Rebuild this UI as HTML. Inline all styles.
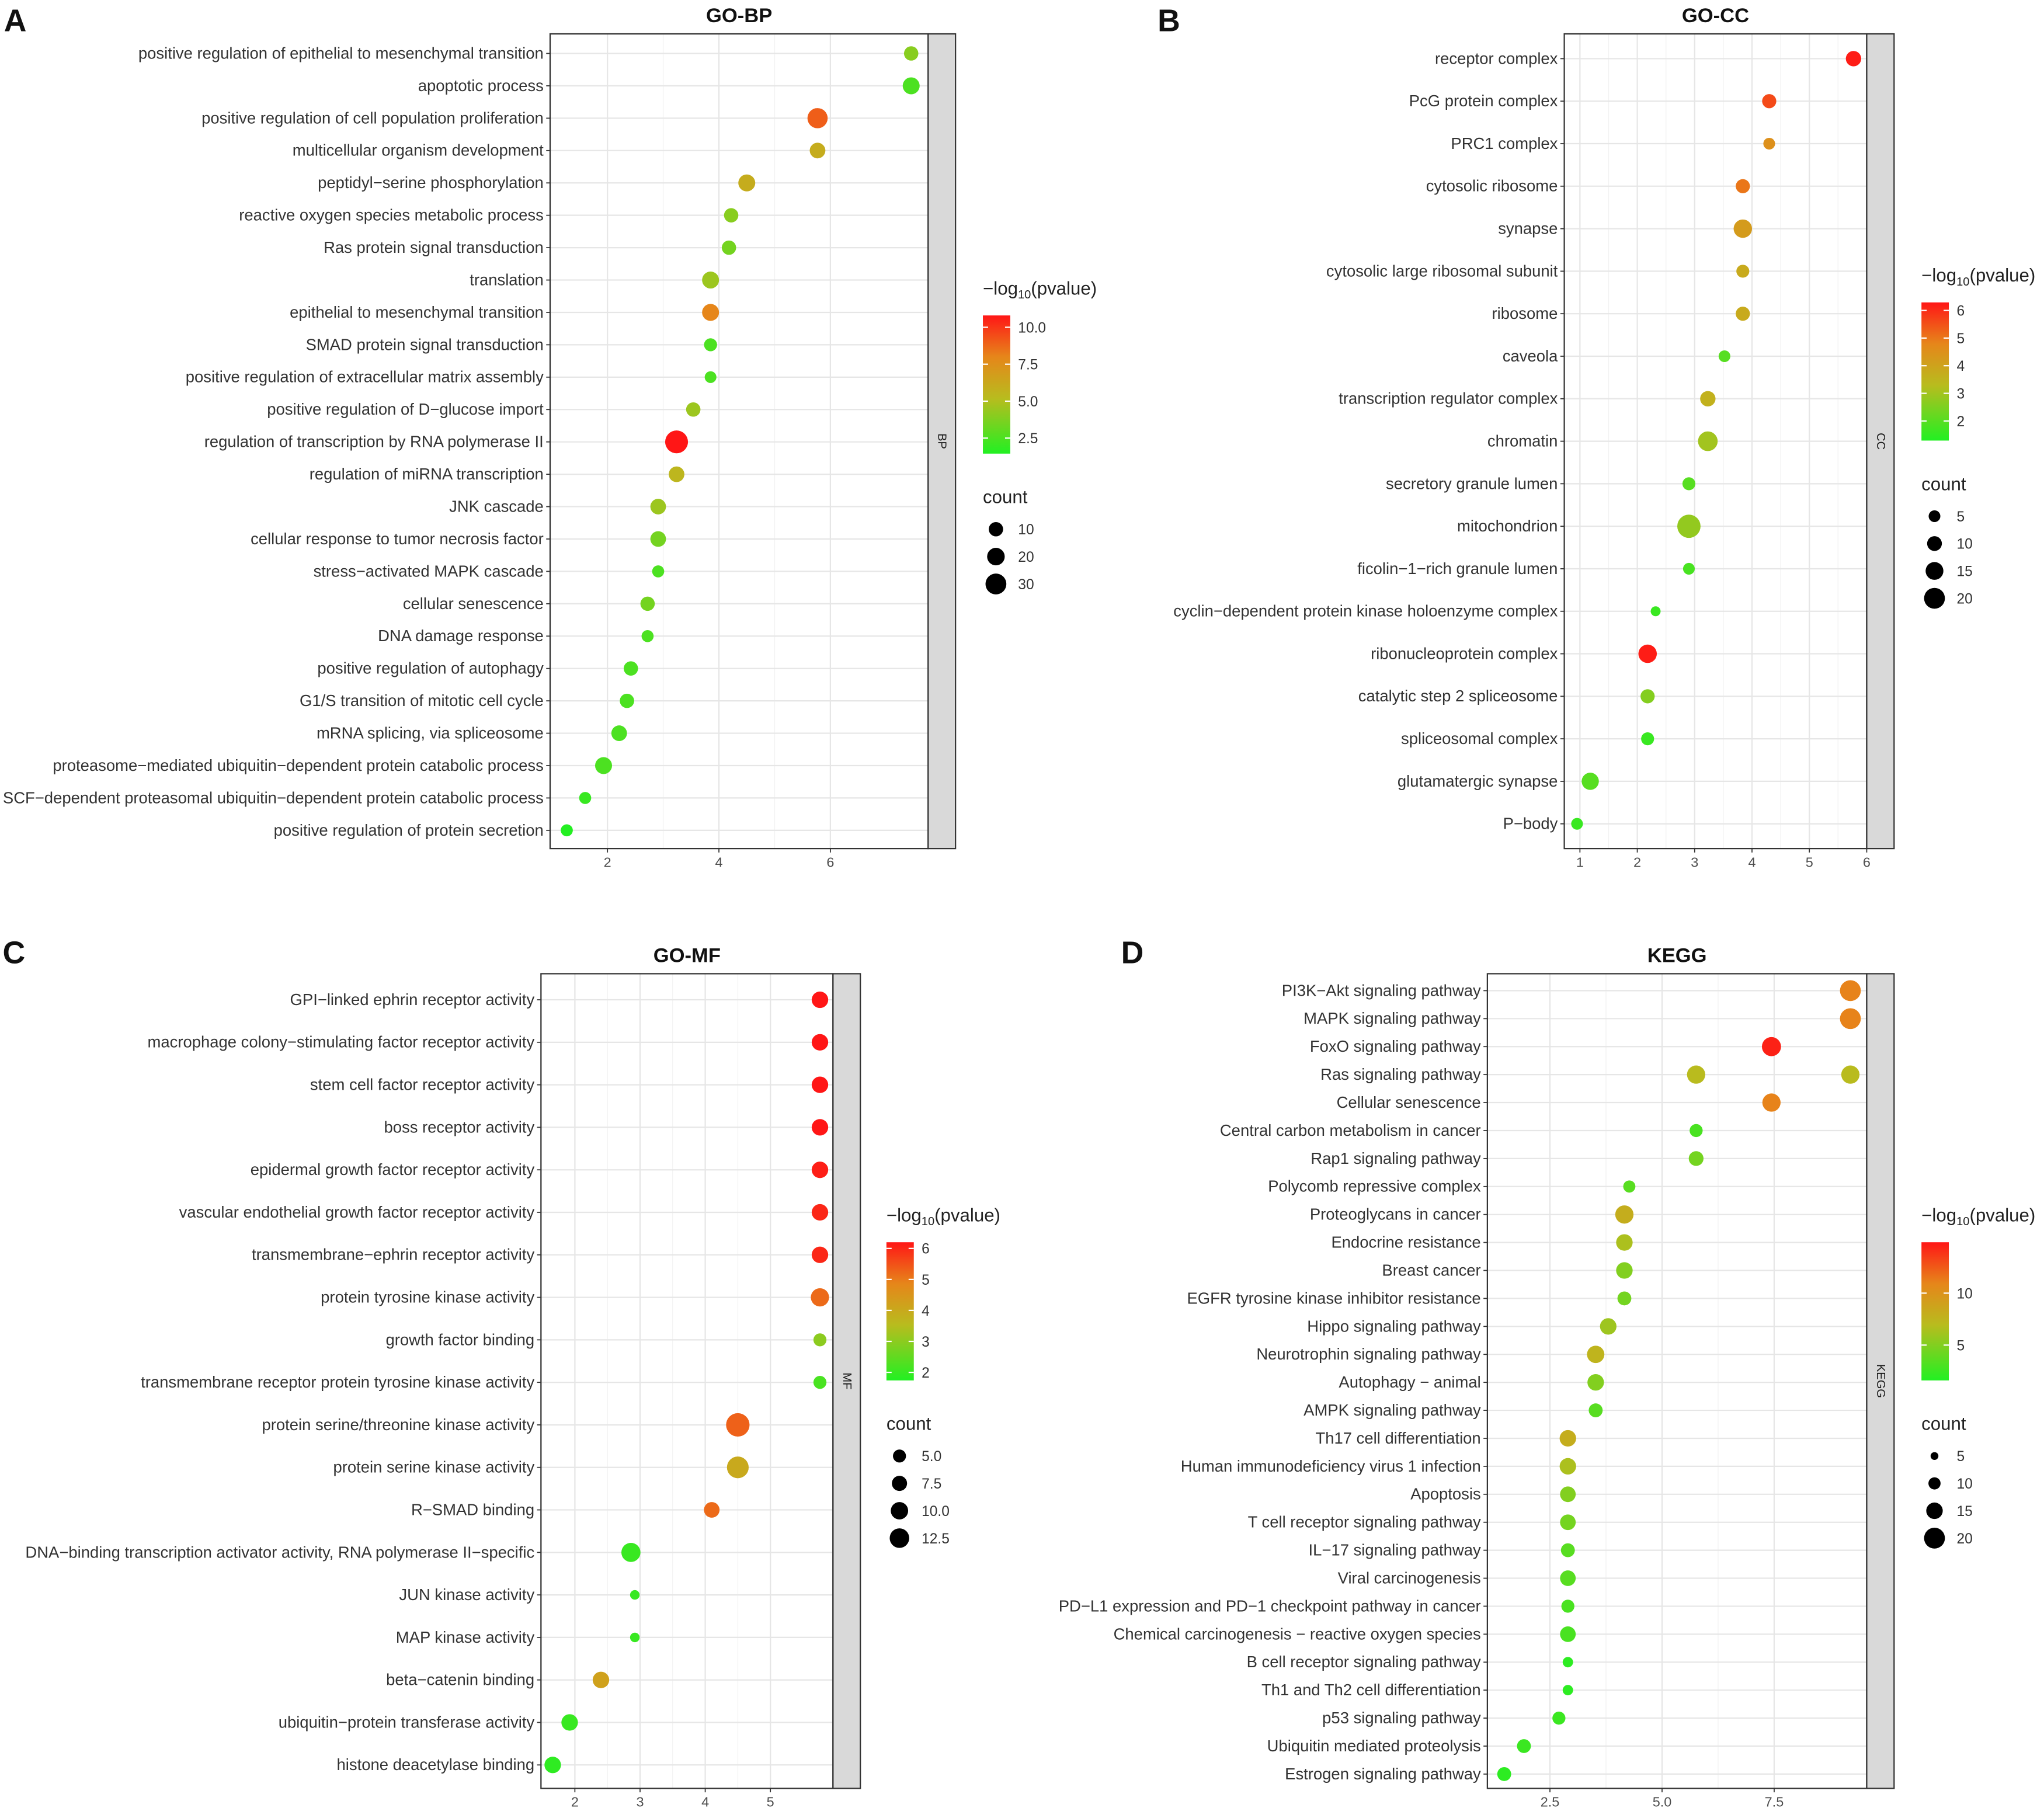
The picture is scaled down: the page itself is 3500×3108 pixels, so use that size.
<!DOCTYPE html>
<html><head><meta charset="utf-8"><style>
html,body{margin:0;padding:0;background:#fff;}
svg{display:block;font-family:"Liberation Sans",Arial,sans-serif;}
</style></head><body>
<svg id="fig" width="3500" height="3108" viewBox="0 0 1568 1392.4" preserveAspectRatio="none" xmlns="http://www.w3.org/2000/svg">
<defs>
<linearGradient id="cgrad" x1="0" y1="1" x2="0" y2="0">
<stop offset="0" stop-color="#22f022"/><stop offset="0.4" stop-color="#b8bc1e"/><stop offset="0.7" stop-color="#e6861a"/><stop offset="1" stop-color="#ff1616"/>
</linearGradient>
</defs>
</svg>
<script>
// ---------- Panel A data (GO-BP) ----------
const aCategories=["positive regulation of epithelial to mesenchymal transition","apoptotic process","positive regulation of cell population proliferation","multicellular organism development","peptidyl−serine phosphorylation","reactive oxygen species metabolic process","Ras protein signal transduction","translation","epithelial to mesenchymal transition","SMAD protein signal transduction","positive regulation of extracellular matrix assembly","positive regulation of D−glucose import","regulation of transcription by RNA polymerase II","regulation of miRNA transcription","JNK cascade","cellular response to tumor necrosis factor","stress−activated MAPK cascade","cellular senescence","DNA damage response","positive regulation of autophagy","G1/S transition of mitotic cell cycle","mRNA splicing, via spliceosome","proteasome−mediated ubiquitin−dependent protein catabolic process","SCF−dependent proteasomal ubiquitin−dependent protein catabolic process","positive regulation of protein secretion"];
const aValues=[7.45,7.45,5.77,5.77,4.5,4.22,4.18,3.85,3.85,3.85,3.85,3.54,3.24,3.24,2.91,2.91,2.91,2.72,2.72,2.42,2.35,2.21,1.93,1.6,1.27];
const aCounts=[10,18,28,14,18,10,10,18,18,6,2,10,36,14,14,14,3,10,3,10,10,14,18,3,3];
const aPvals=[4,2.5,9,6,6,4,3.5,4.5,8,2.5,2.5,4.5,10.8,5.5,4.5,3.5,2.5,3.5,2.5,2.5,2.5,2.5,2.5,2,1.5];
const aXTicks=[2,4,6];
const aColorTicks=["10.0","7.5","5.0","2.5"];
const aSizeTicks=["10","20","30"];
// ---------- Panel B data (GO-CC) ----------
const bCategories=["receptor complex","PcG protein complex","PRC1 complex","cytosolic ribosome","synapse","cytosolic large ribosomal subunit","ribosome","caveola","transcription regulator complex","chromatin","secretory granule lumen","mitochondrion","ficolin−1−rich granule lumen","cyclin−dependent protein kinase holoenzyme complex","ribonucleoprotein complex","catalytic step 2 spliceosome","spliceosomal complex","glutamatergic synapse","P−body"];
const bValues=[5.77,4.3,4.3,3.84,3.84,3.84,3.84,3.52,3.23,3.23,2.9,2.9,2.9,2.32,2.18,2.18,2.18,1.18,0.95];
const bCounts=[11,9,5,9,16,7,9,5,11,18,7,24,5,2,16,9,7,14,5];
const bPvals=[6.2,5.6,4.5,5,4.2,3.8,3.8,2,3.6,3,2,2.8,1.8,1.6,6.2,2.6,1.6,2,1.6];
const bXTicks=[1,2,3,4,5,6];
const bColorTicks=["6","5","4","3","2"];
const bSizeTicks=["5","10","15","20"];
// ---------- Panel C data (GO-MF) ----------
const cCategories=["GPI−linked ephrin receptor activity","macrophage colony−stimulating factor receptor activity","stem cell factor receptor activity","boss receptor activity","epidermal growth factor receptor activity","vascular endothelial growth factor receptor activity","transmembrane−ephrin receptor activity","protein tyrosine kinase activity","growth factor binding","transmembrane receptor protein tyrosine kinase activity","protein serine/threonine kinase activity","protein serine kinase activity","R−SMAD binding","DNA−binding transcription activator activity, RNA polymerase II−specific","JUN kinase activity","MAP kinase activity","beta−catenin binding","ubiquitin−protein transferase activity","histone deacetylase binding"];
const cValues=[5.76,5.76,5.76,5.76,5.76,5.76,5.76,5.76,5.76,5.76,4.5,4.5,4.1,2.86,2.92,2.92,2.4,1.92,1.66];
const cCounts=[9,9,9,9,9,9,9,11,5,5,17,15,8,12,1,1,9,9,9];
const cPvals=[6.2,6.2,6.2,6.2,6.1,6,6,5.2,3,2.2,5.3,4,5.2,2,2,2,4.2,2,1.9];
const cXTicks=[2,3,4,5];
const cColorTicks=["6","5","4","3","2"];
const cSizeTicks=["5.0","7.5","10.0","12.5"];
// ---------- Panel D data (KEGG) ----------
const dCategories=["PI3K−Akt signaling pathway","MAPK signaling pathway","FoxO signaling pathway","Ras signaling pathway","Cellular senescence","Central carbon metabolism in cancer","Rap1 signaling pathway","Polycomb repressive complex","Proteoglycans in cancer","Endocrine resistance","Breast cancer","EGFR tyrosine kinase inhibitor resistance","Hippo signaling pathway","Neurotrophin signaling pathway","Autophagy − animal","AMPK signaling pathway","Th17 cell differentiation","Human immunodeficiency virus 1 infection","Apoptosis","T cell receptor signaling pathway","IL−17 signaling pathway","Viral carcinogenesis","PD−L1 expression and PD−1 checkpoint pathway in cancer","Chemical carcinogenesis − reactive oxygen species","B cell receptor signaling pathway","Th1 and Th2 cell differentiation","p53 signaling pathway","Ubiquitin mediated proteolysis","Estrogen signaling pathway"];
const dPointCats=["PI3K−Akt signaling pathway","MAPK signaling pathway","FoxO signaling pathway","Ras signaling pathway","Ras signaling pathway","Cellular senescence","Central carbon metabolism in cancer","Rap1 signaling pathway","Polycomb repressive complex","Proteoglycans in cancer","Endocrine resistance","Breast cancer","EGFR tyrosine kinase inhibitor resistance","Hippo signaling pathway","Neurotrophin signaling pathway","Autophagy − animal","AMPK signaling pathway","Th17 cell differentiation","Human immunodeficiency virus 1 infection","Apoptosis","T cell receptor signaling pathway","IL−17 signaling pathway","Viral carcinogenesis","PD−L1 expression and PD−1 checkpoint pathway in cancer","Chemical carcinogenesis − reactive oxygen species","B cell receptor signaling pathway","Th1 and Th2 cell differentiation","p53 signaling pathway","Ubiquitin mediated proteolysis","Estrogen signaling pathway"];
const dValues=[9.2,9.2,7.44,5.76,9.2,7.44,5.76,5.76,4.27,4.16,4.16,4.16,4.16,3.8,3.52,3.52,3.52,2.9,2.9,2.9,2.9,2.9,2.9,2.9,2.9,2.9,2.9,2.7,1.92,1.48];
const dCounts=[20,20,18,17,17,17,11,13,10,17,15,15,12,15,16,15,12,15,15,14,14,12,14,11,14,8,8,11,12,12];
const dPvals=[11,11,14.5,7,7,11,3,4.5,3.5,8,6.5,5,4.5,6,7.5,5,3.5,8,6.5,5,4.5,3.5,3.5,3,3,2,2,2.5,2.5,2];
const dXTicks=["2.5","5.0","7.5"];
const dColorTicks=["10","5"];
const dSizeTicks=["5","10","15","20"];

const NS="http://www.w3.org/2000/svg";
const svg=document.getElementById('fig');
function mk(tag,attrs,parent,text){const e=document.createElementNS(NS,tag);for(const k in attrs)e.setAttribute(k,attrs[k]);if(text!==undefined)e.textContent=text;(parent||svg).appendChild(e);return e;}
const stops=[[0,[34,240,34]],[0.4,[184,188,30]],[0.7,[230,134,26]],[1,[255,22,22]]];
function colorOf(t){t=Math.max(0,Math.min(1,t));for(let i=1;i<stops.length;i++){if(t<=stops[i][0]){const a=stops[i-1],b=stops[i];const f=(t-a[0])/(b[0]-a[0]);const c=a[1].map((v,j)=>Math.round(v+(b[1][j]-v)*f));return `rgb(${c[0]},${c[1]},${c[2]})`;}}return 'rgb(255,22,22)';}

function panel(o){
  const g=mk('g',{});
  
  
  const xs=v=>o.x0px+v*o.xk;
  const n=o.cats.length;
  const ys=i=>o.yFirst+i*(o.yLast-o.yFirst)/(n-1);
  const catIdx={};o.cats.forEach((c,i)=>catIdx[c]=i);
  mk('rect',{x:o.L,y:o.T,width:o.R-o.L,height:o.B-o.T,fill:'#fff'},g);
  const tv=o.xt.map(Number);
  for(let i=0;i<tv.length;i++){
    if(i>0){const m=(tv[i]+tv[i-1])/2;mk('line',{x1:xs(m),x2:xs(m),y1:o.T,y2:o.B,stroke:'#f2f2f2','stroke-width':0.6},g);}
  }
  tv.forEach(v=>{const gl=mk('line',{x1:xs(v),x2:xs(v),y1:o.T,y2:o.B,stroke:'#e6e6e6','stroke-width':1},g);});
  o.cats.forEach((c,i)=>{mk('line',{x1:o.L,x2:o.R,y1:ys(i),y2:ys(i),stroke:'#e6e6e6','stroke-width':1},g);});
  o.pcats.forEach((c,k)=>{
    const t=(o.pv[k]-o.cmin)/(o.cmax-o.cmin);
    const r=o.rad(o.cnt[k]);
    const p=mk('circle',{cx:xs(o.vals[k]),cy:ys(catIdx[c]),r:Math.max(2.5,r),fill:colorOf(t)},g);
    
    
  });
  mk('rect',{x:o.L,y:o.T,width:o.R-o.L,height:o.B-o.T,fill:'none',stroke:'#333','stroke-width':1},g);
  const st=mk('rect',{x:o.R,y:o.T,width:21,height:o.B-o.T,fill:'#d9d9d9',stroke:'#333','stroke-width':1},g);
  
  const cy=(o.T+o.B)/2;
  mk('text',{x:o.R+10.5,y:cy,'font-size':9,fill:'#1a1a1a','text-anchor':'middle','dominant-baseline':'central',transform:`rotate(90 ${o.R+10.5} ${cy})`},g,o.strip);
  o.cats.forEach((c,i)=>{
    mk('line',{x1:o.L-3,x2:o.L,y1:ys(i),y2:ys(i),stroke:'#333','stroke-width':0.8},g);
    const t=mk('text',{x:o.L-5,y:ys(i)+4,'font-size':12.3,fill:'#333','text-anchor':'end'},g,c);
    
  });
  o.xt.forEach(v=>{
    mk('line',{x1:xs(+v),x2:xs(+v),y1:o.B,y2:o.B+3,stroke:'#333','stroke-width':0.8},g);
    const t=mk('text',{x:xs(+v),y:o.B+14,'font-size':10.5,fill:'#4d4d4d','text-anchor':'middle'},g,String(v));
    
  });
  const ti=mk('text',{x:(o.L+o.R)/2,y:o.T-9,'font-size':15.5,'font-weight':'bold',fill:'#111','text-anchor':'middle'},g,o.title);
  
  const le=mk('text',{x:o.letterX,y:o.letterY,'font-size':24,'font-weight':'bold',fill:'#111'},g,o.letter);
  
  const lg=mk('g',{},g);
  
  const lt=mk('text',{x:o.lx,y:o.ly,'font-size':14,fill:'#222'},lg);
  mk('tspan',{},lt,'−log');mk('tspan',{'font-size':9,dy:3},lt,'10');mk('tspan',{dy:-3},lt,'(pvalue)');
  const cbT=o.ly+16,cbB=o.ly+122;
  mk('rect',{x:o.lx,y:cbT,width:21,height:cbB-cbT,fill:'url(#cgrad)'},lg);
  o.ct.forEach(v=>{
    const y=cbB-(+v-o.cmin)/(o.cmax-o.cmin)*(cbB-cbT);
    mk('line',{x1:o.lx,x2:o.lx+4,y1:y,y2:y,stroke:'#fff','stroke-width':1},lg);
    mk('line',{x1:o.lx+17,x2:o.lx+21,y1:y,y2:y,stroke:'#fff','stroke-width':1},lg);
    mk('text',{x:o.lx+27,y:y+4,'font-size':11,fill:'#333'},lg,v);
  });
  const sg=mk('g',{},g);
  
  mk('text',{x:o.lx,y:o.ly+160,'font-size':14,fill:'#222'},sg,'count');
  o.stk.forEach((v,i)=>{
    const y=o.ly+180+i*21;
    mk('circle',{cx:o.lx+10,cy:y,r:o.rad(+v),fill:'#000'},sg);
    mk('text',{x:o.lx+27,y:y+4,'font-size':11,fill:'#333'},sg,v);
  });
}

panel({name:'go-bp',cats:aCategories,pcats:aCategories,vals:aValues,cnt:aCounts,pv:aPvals,xt:aXTicks,ct:aColorTicks,stk:aSizeTicks,
  L:422,R:712,T:26,B:651,x0px:380.5,xk:42.75,yFirst:41,yLast:637,cmin:1.45,cmax:10.8,rad:c=>5+(c-10)*0.125+0.5,
  strip:'BP',title:'GO-BP',letter:'A',letterX:3,letterY:24,lx:754,ly:226});
panel({name:'go-cc',cats:bCategories,pcats:bCategories,vals:bValues,cnt:bCounts,pv:bPvals,xt:bXTicks,ct:bColorTicks,stk:bSizeTicks,
  L:1200,R:1432,T:26,B:651,x0px:1168,xk:44,yFirst:45,yLast:632,cmin:1.29,cmax:6.29,rad:c=>4.5+(c-5)*0.233,
  strip:'CC',title:'GO-CC',letter:'B',letterX:888,letterY:24,lx:1474,ly:216});
panel({name:'go-mf',cats:cCategories,pcats:cCategories,vals:cValues,cnt:cCounts,pv:cPvals,xt:cXTicks,ct:cColorTicks,stk:cSizeTicks,
  L:415,R:639,T:747,B:1372,x0px:341,xk:50,yFirst:767,yLast:1354,cmin:1.74,cmax:6.2,rad:c=>5+(c-5)/3,
  strip:'MF',title:'GO-MF',letter:'C',letterX:2,letterY:739,lx:680,ly:937});
panel({name:'kegg',cats:dCategories,pcats:dPointCats,vals:dValues,cnt:dCounts,pv:dPvals,xt:dXTicks,ct:dColorTicks,stk:dSizeTicks,
  L:1141,R:1432,T:747,B:1372,x0px:1103,xk:34.4,yFirst:760,yLast:1361,cmin:1.6,cmax:14.9,rad:c=>3+(c-5)/3,
  strip:'KEGG',title:'KEGG',letter:'D',letterX:860,letterY:739,lx:1474,ly:937});
</script>
</body></html>
